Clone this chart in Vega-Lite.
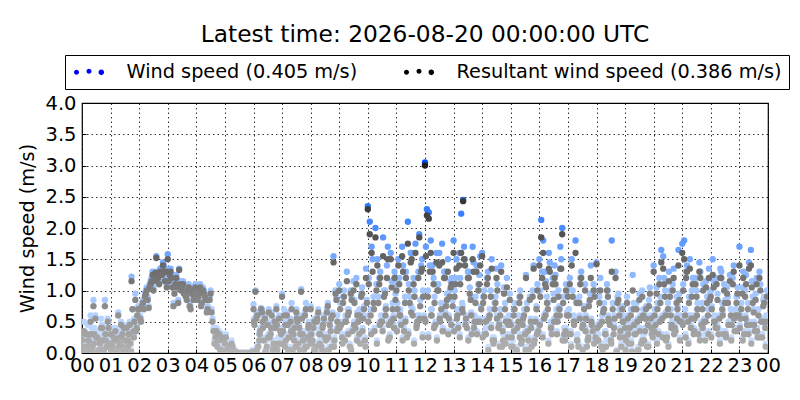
{
  "$schema": "https://vega.github.io/schema/vega-lite/v6.json",
  "width": 686,
  "height": 250,
  "autosize": {"type": "none"},
  "padding": {"left": 82, "top": 103, "right": 32, "bottom": 47},
  "background": "white",
  "title": {
    "text": "Latest time: 2026-08-20 00:00:00 UTC",
    "font": "DejaVu Sans",
    "fontSize": 23.3,
    "fontWeight": "normal",
    "color": "black",
    "anchor": "middle",
    "offset": 7
  },
  "config": {
    "view": {"stroke": "black", "strokeWidth": 1.2},
    "axis": {
      "labelFont": "DejaVu Sans",
      "labelFontSize": 19.5,
      "labelColor": "black",
      "labelOverlap": false,
      "labelFlush": false,
      "titleFont": "DejaVu Sans",
      "titleFontSize": 19.3,
      "titleFontWeight": "normal",
      "titleColor": "black",
      "domain": false,
      "ticks": true,
      "tickSize": -4,
      "tickColor": "black",
      "tickWidth": 1,
      "grid": true,
      "gridColor": "black",
      "gridDash": [1.5, 3],
      "gridWidth": 0.8,
      "gridOpacity": 1
    },
    "legend": {
      "orient": "none",
      "legendX": -17,
      "legendY": -48,
      "direction": "horizontal",
      "title": null,
      "symbolType": "M -0.75,0.05 a 0.25,0.25 0 1,0 0.5,0 a 0.25,0.25 0 1,0 -0.5,0 Z M 0.5,-0.05 a 0.25,0.25 0 1,0 0.5,0 a 0.25,0.25 0 1,0 -0.5,0 Z M 1.7,0.05 a 0.28,0.28 0 1,0 0.56,0 a 0.28,0.28 0 1,0 -0.56,0 Z",
      "symbolSize": 400,
      "symbolOpacity": 1,
      "symbolStrokeWidth": 0,
      "labelFont": "DejaVu Sans",
      "labelFontSize": 19.3,
      "labelColor": "black",
      "labelLimit": 0,
      "labelOffset": 35,
      "columnPadding": 44,
      "padding": 6.5,
      "strokeColor": "black",
      "fillColor": "white"
    }
  },
  "data": {
    "values": [
      {"m":0,"w":0.3,"r":0.2},{"m":4,"w":0.5,"r":0.35},{"m":8,"w":0.2,"r":0.1},{"m":12,"w":0.45,"r":0.3},{"m":16,"w":0.25,"r":0.1},{"m":20,"w":0.4,"r":0.3},{"m":24,"w":0.85,"r":0.75},{"m":28,"w":0.6,"r":0.55},{"m":32,"w":0.35,"r":0.25},{"m":36,"w":0.15,"r":0.05},{"m":40,"w":0.55,"r":0.4},{"m":44,"w":0.3,"r":0.2},{"m":48,"w":0.85,"r":0.75},{"m":52,"w":0.2,"r":0.1},{"m":56,"w":0.5,"r":0.4},
      {"m":2,"w":0.1,"r":0.05},{"m":6,"w":0.35,"r":0.3},{"m":10,"w":0.05,"r":0.02},{"m":14,"w":0.25,"r":0.2},{"m":18,"w":0.6,"r":0.5},{"m":22,"w":0.15,"r":0.1},{"m":26,"w":0.4,"r":0.3},{"m":30,"w":0.3,"r":0.25},{"m":34,"w":0.05,"r":0.02},{"m":38,"w":0.2,"r":0.15},{"m":42,"w":0.45,"r":0.4},{"m":46,"w":0.1,"r":0.05},{"m":50,"w":0.3,"r":0.2},{"m":54,"w":0.55,"r":0.5},{"m":58,"w":0.2,"r":0.15},
      {"m":1,"w":0.15,"r":0.1},{"m":7,"w":0.05,"r":0.02},{"m":13,"w":0.3,"r":0.2},{"m":19,"w":0.1,"r":0.05},{"m":25,"w":0.2,"r":0.15},{"m":31,"w":0.05,"r":0.02},{"m":37,"w":0.25,"r":0.2},{"m":43,"w":0.1,"r":0.05},{"m":49,"w":0.4,"r":0.3},{"m":55,"w":0.15,"r":0.1},
      {"m":60,"w":0.4,"r":0.3},{"m":64,"w":0.25,"r":0.1},{"m":68,"w":0.3,"r":0.2},{"m":72,"w":0.1,"r":0.05},{"m":76,"w":0.65,"r":0.6},{"m":80,"w":0.35,"r":0.25},{"m":84,"w":0.2,"r":0.1},{"m":88,"w":0.45,"r":0.4},{"m":92,"w":0.3,"r":0.2},{"m":96,"w":0.15,"r":0.1},{"m":100,"w":0.5,"r":0.45},{"m":104,"w":1.22,"r":1.15},{"m":108,"w":0.45,"r":0.35},{"m":112,"w":0.95,"r":0.85},{"m":116,"w":0.7,"r":0.6},
      {"m":62,"w":0.2,"r":0.15},{"m":66,"w":0.05,"r":0.02},{"m":70,"w":0.4,"r":0.35},{"m":74,"w":0.3,"r":0.2},{"m":78,"w":0.15,"r":0.1},{"m":82,"w":0.5,"r":0.45},{"m":86,"w":0.1,"r":0.05},{"m":90,"w":0.25,"r":0.2},{"m":94,"w":0.45,"r":0.4},{"m":98,"w":0.35,"r":0.3},{"m":102,"w":0.2,"r":0.15},{"m":106,"w":0.7,"r":0.7},{"m":110,"w":0.55,"r":0.5},{"m":114,"w":0.4,"r":0.35},{"m":118,"w":0.75,"r":0.7},
      {"m":61,"w":0.1,"r":0.05},{"m":67,"w":0.3,"r":0.25},{"m":73,"w":0.05,"r":0.02},{"m":79,"w":0.2,"r":0.15},{"m":85,"w":0.35,"r":0.3},{"m":91,"w":0.1,"r":0.05},{"m":97,"w":0.25,"r":0.2},{"m":103,"w":0.05,"r":0.02},{"m":109,"w":0.3,"r":0.25},{"m":115,"w":0.45,"r":0.4},
      {"m":120,"w":0.72,"r":0.7},{"m":124,"w":0.55,"r":0.5},{"m":128,"w":0.85,"r":0.8},{"m":132,"w":0.95,"r":0.9},{"m":136,"w":1.05,"r":1.0},{"m":140,"w":0.75,"r":0.72},{"m":144,"w":1.15,"r":1.1},{"m":148,"w":1.3,"r":1.25},{"m":152,"w":1.2,"r":1.15},{"m":156,"w":1.55,"r":1.52},{"m":160,"w":1.25,"r":1.2},{"m":164,"w":1.35,"r":1.3},{"m":168,"w":1.3,"r":1.25},{"m":172,"w":1.4,"r":1.3},{"m":176,"w":1.35,"r":1.3},
      {"m":122,"w":0.6,"r":0.55},{"m":126,"w":0.8,"r":0.75},{"m":130,"w":0.75,"r":0.7},{"m":134,"w":1.0,"r":0.95},{"m":138,"w":0.9,"r":0.85},{"m":142,"w":1.1,"r":1.05},{"m":146,"w":1.2,"r":1.15},{"m":150,"w":1.05,"r":1.0},{"m":154,"w":1.3,"r":1.28},{"m":158,"w":1.25,"r":1.2},{"m":162,"w":1.15,"r":1.1},{"m":166,"w":1.3,"r":1.25},{"m":170,"w":1.45,"r":1.4},{"m":174,"w":1.2,"r":1.15},{"m":178,"w":1.1,"r":1.05},
      {"m":180,"w":1.58,"r":1.5},{"m":184,"w":1.3,"r":1.25},{"m":188,"w":1.25,"r":1.2},{"m":192,"w":0.8,"r":0.75},{"m":196,"w":1.15,"r":1.1},{"m":200,"w":1.1,"r":1.05},{"m":204,"w":1.35,"r":1.33},{"m":208,"w":1.05,"r":1.0},{"m":212,"w":1.15,"r":1.1},{"m":216,"w":1.0,"r":0.95},{"m":220,"w":0.9,"r":0.85},{"m":224,"w":1.1,"r":1.05},{"m":228,"w":0.75,"r":0.7},{"m":232,"w":1.05,"r":1.0},{"m":236,"w":0.95,"r":0.9},
      {"m":182,"w":1.2,"r":1.15},{"m":186,"w":1.35,"r":1.3},{"m":190,"w":1.1,"r":1.05},{"m":194,"w":1.0,"r":0.95},{"m":198,"w":1.25,"r":1.2},{"m":202,"w":0.85,"r":0.8},{"m":206,"w":1.15,"r":1.1},{"m":210,"w":1.1,"r":1.05},{"m":214,"w":1.0,"r":0.95},{"m":218,"w":0.95,"r":0.9},{"m":222,"w":1.05,"r":1.0},{"m":226,"w":0.8,"r":0.75},{"m":230,"w":1.0,"r":0.95},{"m":234,"w":0.9,"r":0.85},{"m":238,"w":1.1,"r":1.05},
      {"m":240,"w":1.05,"r":1.0},{"m":244,"w":0.95,"r":0.9},{"m":248,"w":1.1,"r":1.05},{"m":252,"w":0.85,"r":0.8},{"m":256,"w":1.0,"r":0.95},{"m":260,"w":0.9,"r":0.85},{"m":264,"w":0.75,"r":0.7},{"m":268,"w":0.9,"r":0.85},{"m":272,"w":0.7,"r":0.65},{"m":276,"w":0.4,"r":0.35},{"m":280,"w":0.3,"r":0.25},{"m":284,"w":0.15,"r":0.1},{"m":288,"w":0.35,"r":0.3},{"m":292,"w":0.1,"r":0.05},{"m":296,"w":0.25,"r":0.2},
      {"m":242,"w":0.9,"r":0.85},{"m":246,"w":1.0,"r":0.95},{"m":250,"w":0.8,"r":0.75},{"m":254,"w":1.05,"r":1.0},{"m":258,"w":0.95,"r":0.9},{"m":262,"w":0.7,"r":0.65},{"m":266,"w":0.9,"r":0.85},{"m":270,"w":1.0,"r":0.95},{"m":274,"w":0.55,"r":0.5},{"m":278,"w":0.2,"r":0.15},{"m":282,"w":0.4,"r":0.35},{"m":286,"w":0.25,"r":0.2},{"m":290,"w":0.1,"r":0.05},{"m":294,"w":0.3,"r":0.25},{"m":298,"w":0.05,"r":0.02},
      {"m":300,"w":0.2,"r":0.15},{"m":304,"w":0.1,"r":0.05},{"m":308,"w":0.15,"r":0.1},{"m":312,"w":0.05,"r":0.02},{"m":316,"w":0.12,"r":0.1},{"m":320,"w":0.02,"r":0.01},{"m":324,"w":0.01,"r":0},{"m":328,"w":0,"r":0},{"m":332,"w":0,"r":0},{"m":336,"w":0,"r":0},{"m":340,"w":0,"r":0},{"m":344,"w":0,"r":0},{"m":348,"w":0,"r":0},{"m":352,"w":0,"r":0},{"m":356,"w":0.01,"r":0},
      {"m":302,"w":0.3,"r":0.25},{"m":306,"w":0.05,"r":0.02},{"m":310,"w":0.1,"r":0.05},{"m":314,"w":0.2,"r":0.15},{"m":318,"w":0.02,"r":0},{"m":322,"w":0.05,"r":0.02},{"m":326,"w":0,"r":0},{"m":330,"w":0,"r":0},{"m":334,"w":0,"r":0},{"m":338,"w":0,"r":0},{"m":342,"w":0,"r":0},{"m":346,"w":0,"r":0},{"m":350,"w":0,"r":0},{"m":354,"w":0,"r":0},{"m":358,"w":0.05,"r":0.02},
      {"m":360,"w":0.78,"r":0.7},{"m":364,"w":1.0,"r":0.98},{"m":368,"w":0.65,"r":0.6},{"m":372,"w":0.3,"r":0.2},{"m":376,"w":0.72,"r":0.7},{"m":380,"w":0.45,"r":0.4},{"m":384,"w":0.6,"r":0.55},{"m":388,"w":0.2,"r":0.1},{"m":392,"w":0.7,"r":0.65},{"m":396,"w":0.35,"r":0.3},{"m":400,"w":0.1,"r":0.05},{"m":404,"w":0.55,"r":0.5},{"m":408,"w":0.75,"r":0.7},{"m":412,"w":0.25,"r":0.15},{"m":416,"w":0.4,"r":0.35},
      {"m":362,"w":0.5,"r":0.45},{"m":366,"w":0.6,"r":0.55},{"m":370,"w":0.15,"r":0.1},{"m":374,"w":0.4,"r":0.35},{"m":378,"w":0.7,"r":0.65},{"m":382,"w":0.25,"r":0.2},{"m":386,"w":0.05,"r":0.02},{"m":390,"w":0.5,"r":0.45},{"m":394,"w":0.3,"r":0.25},{"m":398,"w":0.65,"r":0.6},{"m":402,"w":0.2,"r":0.15},{"m":406,"w":0.45,"r":0.4},{"m":410,"w":0.1,"r":0.05},{"m":414,"w":0.6,"r":0.55},{"m":418,"w":0.35,"r":0.3},
      {"m":361,"w":0.55,"r":0.5},{"m":367,"w":0.1,"r":0.05},{"m":373,"w":0.35,"r":0.3},{"m":379,"w":0.6,"r":0.5},{"m":385,"w":0.05,"r":0.02},{"m":391,"w":0.3,"r":0.25},{"m":397,"w":0.45,"r":0.4},{"m":403,"w":0.15,"r":0.1},{"m":409,"w":0.5,"r":0.45},{"m":415,"w":0.2,"r":0.15},
      {"m":420,"w":0.95,"r":0.9},{"m":424,"w":0.7,"r":0.6},{"m":428,"w":0.3,"r":0.2},{"m":432,"w":0.5,"r":0.45},{"m":436,"w":0.1,"r":0.05},{"m":440,"w":0.8,"r":0.7},{"m":444,"w":0.35,"r":0.3},{"m":448,"w":0.2,"r":0.1},{"m":452,"w":0.6,"r":0.5},{"m":456,"w":0.45,"r":0.4},{"m":460,"w":1.02,"r":0.98},{"m":464,"w":0.25,"r":0.2},{"m":468,"w":0.65,"r":0.6},{"m":472,"w":0.15,"r":0.1},{"m":476,"w":0.5,"r":0.45},
      {"m":422,"w":0.4,"r":0.35},{"m":426,"w":0.15,"r":0.1},{"m":430,"w":0.65,"r":0.6},{"m":434,"w":0.3,"r":0.25},{"m":438,"w":0.55,"r":0.5},{"m":442,"w":0.05,"r":0.02},{"m":446,"w":0.45,"r":0.4},{"m":450,"w":0.7,"r":0.65},{"m":454,"w":0.2,"r":0.15},{"m":458,"w":0.35,"r":0.3},{"m":462,"w":0.6,"r":0.55},{"m":466,"w":0.1,"r":0.05},{"m":470,"w":0.8,"r":0.7},{"m":474,"w":0.3,"r":0.25},{"m":478,"w":0.25,"r":0.2},
      {"m":421,"w":0.2,"r":0.15},{"m":427,"w":0.5,"r":0.45},{"m":433,"w":0.05,"r":0.02},{"m":439,"w":0.4,"r":0.35},{"m":445,"w":0.25,"r":0.2},{"m":451,"w":0.6,"r":0.55},{"m":457,"w":0.1,"r":0.05},{"m":463,"w":0.35,"r":0.3},{"m":469,"w":0.15,"r":0.1},{"m":475,"w":0.45,"r":0.4},
      {"m":480,"w":0.75,"r":0.7},{"m":484,"w":0.3,"r":0.2},{"m":488,"w":0.55,"r":0.5},{"m":492,"w":0.15,"r":0.1},{"m":496,"w":0.7,"r":0.65},{"m":500,"w":0.4,"r":0.3},{"m":504,"w":0.1,"r":0.05},{"m":508,"w":0.6,"r":0.55},{"m":512,"w":0.25,"r":0.2},{"m":516,"w":0.8,"r":0.75},{"m":520,"w":0.5,"r":0.45},{"m":524,"w":0.2,"r":0.1},{"m":528,"w":1.55,"r":1.45},{"m":532,"w":1.0,"r":0.95},{"m":536,"w":0.6,"r":0.5},
      {"m":482,"w":0.2,"r":0.15},{"m":486,"w":0.45,"r":0.4},{"m":490,"w":0.05,"r":0.02},{"m":494,"w":0.6,"r":0.55},{"m":498,"w":0.35,"r":0.3},{"m":502,"w":0.15,"r":0.1},{"m":506,"w":0.5,"r":0.45},{"m":510,"w":0.3,"r":0.25},{"m":514,"w":0.7,"r":0.65},{"m":518,"w":0.1,"r":0.05},{"m":522,"w":0.4,"r":0.35},{"m":526,"w":0.65,"r":0.6},{"m":530,"w":0.25,"r":0.2},{"m":534,"w":0.9,"r":0.85},{"m":538,"w":0.45,"r":0.4},
      {"m":481,"w":0.35,"r":0.3},{"m":487,"w":0.1,"r":0.05},{"m":493,"w":0.55,"r":0.5},{"m":499,"w":0.2,"r":0.15},{"m":505,"w":0.45,"r":0.4},{"m":511,"w":0.05,"r":0.02},{"m":517,"w":0.3,"r":0.25},{"m":523,"w":0.6,"r":0.55},{"m":529,"w":0.15,"r":0.1},{"m":535,"w":0.4,"r":0.35},
      {"m":540,"w":1.1,"r":1.0},{"m":544,"w":0.5,"r":0.45},{"m":548,"w":0.9,"r":0.8},{"m":552,"w":0.3,"r":0.2},{"m":556,"w":1.3,"r":1.15},{"m":560,"w":0.7,"r":0.65},{"m":564,"w":1.0,"r":0.95},{"m":568,"w":0.4,"r":0.35},{"m":572,"w":0.85,"r":0.8},{"m":576,"w":1.2,"r":1.1},{"m":580,"w":0.6,"r":0.5},{"m":584,"w":0.2,"r":0.15},{"m":588,"w":1.05,"r":0.95},{"m":592,"w":0.75,"r":0.7},{"m":596,"w":1.35,"r":1.2},
      {"m":542,"w":0.8,"r":0.7},{"m":546,"w":0.3,"r":0.25},{"m":550,"w":1.0,"r":0.9},{"m":554,"w":0.55,"r":0.5},{"m":558,"w":0.7,"r":0.6},{"m":562,"w":0.15,"r":0.1},{"m":566,"w":0.9,"r":0.85},{"m":570,"w":1.15,"r":1.0},{"m":574,"w":0.45,"r":0.4},{"m":578,"w":0.65,"r":0.6},{"m":582,"w":0.35,"r":0.3},{"m":586,"w":0.95,"r":0.9},{"m":590,"w":0.6,"r":0.55},{"m":594,"w":0.25,"r":0.2},{"m":598,"w":0.85,"r":0.8},
      {"m":541,"w":0.45,"r":0.4},{"m":547,"w":0.2,"r":0.15},{"m":553,"w":0.6,"r":0.5},{"m":559,"w":0.35,"r":0.3},{"m":565,"w":0.1,"r":0.05},{"m":571,"w":0.5,"r":0.45},{"m":577,"w":0.25,"r":0.2},{"m":583,"w":0.7,"r":0.6},{"m":589,"w":0.4,"r":0.35},{"m":595,"w":0.15,"r":0.1},
      {"m":600,"w":2.35,"r":2.3},{"m":604,"w":2.1,"r":1.9},{"m":608,"w":1.7,"r":1.6},{"m":612,"w":0.9,"r":0.8},{"m":616,"w":2.0,"r":1.85},{"m":620,"w":1.5,"r":1.4},{"m":624,"w":1.2,"r":1.1},{"m":628,"w":0.6,"r":0.5},{"m":632,"w":1.85,"r":1.55},{"m":636,"w":1.0,"r":0.95},{"m":640,"w":1.4,"r":1.2},{"m":644,"w":0.5,"r":0.45},{"m":648,"w":1.6,"r":1.5},{"m":652,"w":0.8,"r":0.7},{"m":656,"w":1.3,"r":1.2},
      {"m":602,"w":1.2,"r":1.1},{"m":606,"w":0.7,"r":0.6},{"m":610,"w":1.5,"r":1.3},{"m":614,"w":0.4,"r":0.35},{"m":618,"w":1.1,"r":1.0},{"m":622,"w":0.9,"r":0.8},{"m":626,"w":1.3,"r":1.2},{"m":630,"w":0.55,"r":0.5},{"m":634,"w":1.0,"r":0.9},{"m":638,"w":0.75,"r":0.7},{"m":642,"w":1.7,"r":1.5},{"m":646,"w":0.3,"r":0.25},{"m":650,"w":1.15,"r":1.05},{"m":654,"w":0.6,"r":0.55},{"m":658,"w":0.95,"r":0.85},
      {"m":601,"w":0.6,"r":0.5},{"m":607,"w":0.35,"r":0.3},{"m":613,"w":0.8,"r":0.7},{"m":619,"w":0.2,"r":0.15},{"m":625,"w":0.5,"r":0.45},{"m":631,"w":0.4,"r":0.35},{"m":637,"w":0.7,"r":0.6},{"m":643,"w":0.25,"r":0.2},{"m":649,"w":0.55,"r":0.5},{"m":655,"w":0.45,"r":0.4},
      {"m":660,"w":1.1,"r":1.0},{"m":664,"w":1.5,"r":1.4},{"m":668,"w":0.7,"r":0.6},{"m":672,"w":1.7,"r":1.55},{"m":676,"w":0.4,"r":0.35},{"m":680,"w":1.3,"r":1.2},{"m":684,"w":2.1,"r":1.75},{"m":688,"w":0.9,"r":0.8},{"m":692,"w":1.6,"r":1.5},{"m":696,"w":1.2,"r":1.1},{"m":700,"w":1.75,"r":1.6},{"m":704,"w":0.6,"r":0.5},{"m":708,"w":1.9,"r":1.85},{"m":712,"w":1.4,"r":1.3},{"m":716,"w":1.0,"r":0.9},
      {"m":662,"w":0.8,"r":0.7},{"m":666,"w":1.2,"r":1.1},{"m":670,"w":0.5,"r":0.45},{"m":674,"w":1.4,"r":1.3},{"m":678,"w":0.9,"r":0.8},{"m":682,"w":0.3,"r":0.25},{"m":686,"w":1.1,"r":1.0},{"m":690,"w":1.6,"r":1.45},{"m":694,"w":0.7,"r":0.6},{"m":698,"w":1.0,"r":0.9},{"m":702,"w":0.45,"r":0.4},{"m":706,"w":1.3,"r":1.2},{"m":710,"w":0.85,"r":0.75},{"m":714,"w":1.5,"r":1.35},{"m":718,"w":0.6,"r":0.55},
      {"m":661,"w":0.4,"r":0.35},{"m":667,"w":0.65,"r":0.6},{"m":673,"w":0.25,"r":0.2},{"m":679,"w":0.55,"r":0.5},{"m":685,"w":0.35,"r":0.3},{"m":691,"w":0.75,"r":0.65},{"m":697,"w":0.2,"r":0.15},{"m":703,"w":0.5,"r":0.45},{"m":709,"w":0.6,"r":0.55},{"m":715,"w":0.3,"r":0.25},
      {"m":720,"w":3.05,"r":3.0},{"m":724,"w":2.3,"r":2.2},{"m":728,"w":2.25,"r":2.15},{"m":732,"w":1.8,"r":1.6},{"m":736,"w":1.4,"r":1.3},{"m":740,"w":0.9,"r":0.8},{"m":744,"w":1.6,"r":1.45},{"m":748,"w":1.1,"r":1.0},{"m":752,"w":0.6,"r":0.5},{"m":756,"w":1.75,"r":1.45},{"m":760,"w":1.3,"r":1.2},{"m":764,"w":0.8,"r":0.75},{"m":768,"w":1.5,"r":1.3},{"m":772,"w":1.0,"r":0.9},{"m":776,"w":1.2,"r":1.1},
      {"m":722,"w":1.7,"r":1.55},{"m":726,"w":1.0,"r":0.9},{"m":730,"w":1.4,"r":1.3},{"m":734,"w":0.7,"r":0.6},{"m":738,"w":1.2,"r":1.1},{"m":742,"w":0.5,"r":0.45},{"m":746,"w":1.1,"r":1.0},{"m":750,"w":1.6,"r":1.4},{"m":754,"w":0.8,"r":0.7},{"m":758,"w":0.4,"r":0.35},{"m":762,"w":1.3,"r":1.2},{"m":766,"w":0.95,"r":0.85},{"m":770,"w":0.6,"r":0.55},{"m":774,"w":1.15,"r":1.05},{"m":778,"w":0.85,"r":0.75},
      {"m":721,"w":0.55,"r":0.5},{"m":727,"w":0.3,"r":0.25},{"m":733,"w":0.7,"r":0.6},{"m":739,"w":0.45,"r":0.4},{"m":745,"w":0.25,"r":0.2},{"m":751,"w":0.6,"r":0.55},{"m":757,"w":0.4,"r":0.35},{"m":763,"w":0.65,"r":0.6},{"m":769,"w":0.35,"r":0.3},{"m":775,"w":0.5,"r":0.45},
      {"m":780,"w":1.8,"r":1.6},{"m":784,"w":1.2,"r":1.1},{"m":788,"w":0.7,"r":0.6},{"m":792,"w":1.6,"r":1.4},{"m":796,"w":2.23,"r":1.6},{"m":800,"w":2.45,"r":2.43},{"m":804,"w":1.5,"r":1.4},{"m":808,"w":0.5,"r":0.4},{"m":812,"w":1.3,"r":1.2},{"m":816,"w":0.9,"r":0.85},{"m":820,"w":1.7,"r":1.5},{"m":824,"w":0.6,"r":0.5},{"m":828,"w":1.4,"r":1.3},{"m":832,"w":1.1,"r":1.0},{"m":836,"w":1.55,"r":1.4},
      {"m":782,"w":1.0,"r":0.9},{"m":786,"w":1.5,"r":1.35},{"m":790,"w":0.45,"r":0.4},{"m":794,"w":1.2,"r":1.1},{"m":798,"w":0.8,"r":0.7},{"m":802,"w":1.7,"r":1.5},{"m":806,"w":0.6,"r":0.55},{"m":810,"w":1.3,"r":1.2},{"m":814,"w":1.05,"r":0.95},{"m":818,"w":0.35,"r":0.3},{"m":822,"w":1.45,"r":1.3},{"m":826,"w":0.9,"r":0.8},{"m":830,"w":0.55,"r":0.5},{"m":834,"w":1.25,"r":1.1},{"m":838,"w":0.75,"r":0.7},
      {"m":781,"w":0.4,"r":0.35},{"m":787,"w":0.6,"r":0.55},{"m":793,"w":0.3,"r":0.25},{"m":799,"w":0.75,"r":0.65},{"m":805,"w":0.5,"r":0.45},{"m":811,"w":0.25,"r":0.2},{"m":817,"w":0.65,"r":0.6},{"m":823,"w":0.45,"r":0.4},{"m":829,"w":0.35,"r":0.3},{"m":835,"w":0.55,"r":0.5},
      {"m":840,"w":1.6,"r":1.55},{"m":844,"w":1.0,"r":0.9},{"m":848,"w":0.4,"r":0.3},{"m":852,"w":1.3,"r":1.2},{"m":856,"w":0.7,"r":0.6},{"m":860,"w":1.5,"r":1.35},{"m":864,"w":0.2,"r":0.15},{"m":868,"w":0.9,"r":0.8},{"m":872,"w":1.1,"r":1.0},{"m":876,"w":0.5,"r":0.45},{"m":880,"w":1.4,"r":1.3},{"m":884,"w":0.3,"r":0.2},{"m":888,"w":0.8,"r":0.7},{"m":892,"w":1.2,"r":1.05},{"m":896,"w":0.6,"r":0.5},
      {"m":842,"w":0.9,"r":0.8},{"m":846,"w":0.35,"r":0.3},{"m":850,"w":1.2,"r":1.1},{"m":854,"w":0.6,"r":0.55},{"m":858,"w":1.0,"r":0.9},{"m":862,"w":0.25,"r":0.2},{"m":866,"w":0.8,"r":0.7},{"m":870,"w":1.35,"r":1.2},{"m":874,"w":0.45,"r":0.4},{"m":878,"w":0.7,"r":0.6},{"m":882,"w":0.15,"r":0.1},{"m":886,"w":1.05,"r":0.95},{"m":890,"w":0.55,"r":0.5},{"m":894,"w":0.3,"r":0.25},{"m":898,"w":0.95,"r":0.85},
      {"m":841,"w":0.3,"r":0.25},{"m":847,"w":0.55,"r":0.5},{"m":853,"w":0.1,"r":0.05},{"m":859,"w":0.45,"r":0.4},{"m":865,"w":0.25,"r":0.2},{"m":871,"w":0.6,"r":0.55},{"m":877,"w":0.15,"r":0.1},{"m":883,"w":0.4,"r":0.35},{"m":889,"w":0.2,"r":0.15},{"m":895,"w":0.5,"r":0.45},
      {"m":900,"w":0.5,"r":0.45},{"m":904,"w":0.2,"r":0.1},{"m":908,"w":0.8,"r":0.7},{"m":912,"w":0.1,"r":0.05},{"m":916,"w":0.6,"r":0.5},{"m":920,"w":1.0,"r":0.9},{"m":924,"w":0.3,"r":0.2},{"m":928,"w":0.7,"r":0.6},{"m":932,"w":1.25,"r":1.2},{"m":936,"w":0.4,"r":0.35},{"m":940,"w":0.9,"r":0.85},{"m":944,"w":0.15,"r":0.1},{"m":948,"w":1.4,"r":1.35},{"m":952,"w":0.55,"r":0.5},{"m":956,"w":1.1,"r":1.0},
      {"m":902,"w":0.3,"r":0.25},{"m":906,"w":0.7,"r":0.6},{"m":910,"w":0.05,"r":0.02},{"m":914,"w":0.45,"r":0.4},{"m":918,"w":0.9,"r":0.8},{"m":922,"w":0.2,"r":0.15},{"m":926,"w":0.6,"r":0.55},{"m":930,"w":0.35,"r":0.3},{"m":934,"w":0.8,"r":0.7},{"m":938,"w":0.1,"r":0.05},{"m":942,"w":0.55,"r":0.5},{"m":946,"w":1.0,"r":0.9},{"m":950,"w":0.25,"r":0.2},{"m":954,"w":0.75,"r":0.7},{"m":958,"w":0.4,"r":0.35},
      {"m":901,"w":0.15,"r":0.1},{"m":907,"w":0.4,"r":0.35},{"m":913,"w":0.05,"r":0.02},{"m":919,"w":0.3,"r":0.25},{"m":925,"w":0.5,"r":0.45},{"m":931,"w":0.1,"r":0.05},{"m":937,"w":0.25,"r":0.2},{"m":943,"w":0.45,"r":0.4},{"m":949,"w":0.2,"r":0.15},{"m":955,"w":0.35,"r":0.3},
      {"m":960,"w":1.5,"r":1.4},{"m":964,"w":2.13,"r":1.85},{"m":968,"w":1.8,"r":1.6},{"m":972,"w":1.3,"r":1.1},{"m":976,"w":0.9,"r":0.8},{"m":980,"w":1.6,"r":1.35},{"m":984,"w":0.5,"r":0.4},{"m":988,"w":1.2,"r":1.1},{"m":992,"w":1.4,"r":1.2},{"m":996,"w":0.7,"r":0.6},{"m":1000,"w":1.0,"r":0.9},{"m":1004,"w":1.7,"r":1.35},{"m":1008,"w":2.0,"r":1.9},{"m":1012,"w":0.4,"r":0.3},{"m":1016,"w":1.1,"r":1.0},
      {"m":962,"w":1.0,"r":0.9},{"m":966,"w":1.3,"r":1.2},{"m":970,"w":0.6,"r":0.55},{"m":974,"w":1.15,"r":1.05},{"m":978,"w":0.8,"r":0.7},{"m":982,"w":1.45,"r":1.3},{"m":986,"w":0.35,"r":0.3},{"m":990,"w":0.95,"r":0.85},{"m":994,"w":1.25,"r":1.1},{"m":998,"w":0.55,"r":0.5},{"m":1002,"w":0.75,"r":0.7},{"m":1006,"w":1.5,"r":1.35},{"m":1010,"w":0.9,"r":0.8},{"m":1014,"w":0.25,"r":0.2},{"m":1018,"w":0.65,"r":0.6},
      {"m":961,"w":0.5,"r":0.45},{"m":967,"w":0.3,"r":0.25},{"m":973,"w":0.65,"r":0.6},{"m":979,"w":0.2,"r":0.15},{"m":985,"w":0.45,"r":0.4},{"m":991,"w":0.55,"r":0.5},{"m":997,"w":0.35,"r":0.3},{"m":1003,"w":0.7,"r":0.6},{"m":1009,"w":0.25,"r":0.2},{"m":1015,"w":0.4,"r":0.35},
      {"m":1020,"w":1.0,"r":0.9},{"m":1024,"w":1.2,"r":1.1},{"m":1028,"w":1.5,"r":1.4},{"m":1032,"w":0.6,"r":0.5},{"m":1036,"w":1.8,"r":1.6},{"m":1040,"w":0.3,"r":0.2},{"m":1044,"w":0.9,"r":0.8},{"m":1048,"w":1.3,"r":1.2},{"m":1052,"w":0.5,"r":0.45},{"m":1056,"w":1.1,"r":1.0},{"m":1060,"w":0.2,"r":0.1},{"m":1064,"w":0.8,"r":0.75},{"m":1068,"w":1.4,"r":1.2},{"m":1072,"w":0.4,"r":0.35},{"m":1076,"w":1.0,"r":0.9},
      {"m":1022,"w":0.7,"r":0.6},{"m":1026,"w":0.35,"r":0.3},{"m":1030,"w":1.0,"r":0.9},{"m":1034,"w":0.55,"r":0.5},{"m":1038,"w":0.85,"r":0.8},{"m":1042,"w":0.15,"r":0.1},{"m":1046,"w":1.2,"r":1.1},{"m":1050,"w":0.45,"r":0.4},{"m":1054,"w":0.75,"r":0.7},{"m":1058,"w":0.6,"r":0.55},{"m":1062,"w":0.25,"r":0.2},{"m":1066,"w":0.95,"r":0.85},{"m":1070,"w":0.5,"r":0.45},{"m":1074,"w":1.1,"r":1.0},{"m":1078,"w":0.3,"r":0.25},
      {"m":1021,"w":0.35,"r":0.3},{"m":1027,"w":0.15,"r":0.1},{"m":1033,"w":0.5,"r":0.45},{"m":1039,"w":0.25,"r":0.2},{"m":1045,"w":0.6,"r":0.55},{"m":1051,"w":0.1,"r":0.05},{"m":1057,"w":0.4,"r":0.35},{"m":1063,"w":0.3,"r":0.25},{"m":1069,"w":0.55,"r":0.5},{"m":1075,"w":0.2,"r":0.15},
      {"m":1080,"w":1.45,"r":1.42},{"m":1084,"w":0.3,"r":0.2},{"m":1088,"w":1.2,"r":1.0},{"m":1092,"w":0.6,"r":0.5},{"m":1096,"w":0.8,"r":0.7},{"m":1100,"w":0.2,"r":0.1},{"m":1104,"w":1.0,"r":0.9},{"m":1108,"w":0.5,"r":0.45},{"m":1112,"w":1.8,"r":1.3},{"m":1116,"w":0.4,"r":0.3},{"m":1120,"w":1.3,"r":1.2},{"m":1124,"w":0.9,"r":0.8},{"m":1128,"w":0.7,"r":0.6},{"m":1132,"w":0.15,"r":0.1},{"m":1136,"w":0.6,"r":0.5},
      {"m":1082,"w":0.45,"r":0.4},{"m":1086,"w":0.9,"r":0.8},{"m":1090,"w":0.15,"r":0.1},{"m":1094,"w":0.7,"r":0.65},{"m":1098,"w":0.35,"r":0.3},{"m":1102,"w":1.1,"r":1.0},{"m":1106,"w":0.55,"r":0.5},{"m":1110,"w":0.25,"r":0.2},{"m":1114,"w":0.8,"r":0.7},{"m":1118,"w":0.6,"r":0.55},{"m":1122,"w":0.05,"r":0.02},{"m":1126,"w":0.95,"r":0.85},{"m":1130,"w":0.4,"r":0.35},{"m":1134,"w":0.75,"r":0.7},{"m":1138,"w":0.3,"r":0.25},
      {"m":1081,"w":0.25,"r":0.2},{"m":1087,"w":0.5,"r":0.45},{"m":1093,"w":0.1,"r":0.05},{"m":1099,"w":0.35,"r":0.3},{"m":1105,"w":0.6,"r":0.55},{"m":1111,"w":0.2,"r":0.15},{"m":1117,"w":0.45,"r":0.4},{"m":1123,"w":0.05,"r":0.02},{"m":1129,"w":0.3,"r":0.25},{"m":1135,"w":0.55,"r":0.5},
      {"m":1140,"w":0.5,"r":0.4},{"m":1144,"w":0.9,"r":0.8},{"m":1148,"w":0.2,"r":0.15},{"m":1152,"w":0.7,"r":0.6},{"m":1156,"w":1.25,"r":1.0},{"m":1160,"w":0.4,"r":0.3},{"m":1164,"w":0.8,"r":0.7},{"m":1168,"w":0.1,"r":0.05},{"m":1172,"w":0.6,"r":0.55},{"m":1176,"w":1.0,"r":0.9},{"m":1180,"w":0.3,"r":0.2},{"m":1184,"w":0.75,"r":0.7},{"m":1188,"w":0.5,"r":0.45},{"m":1192,"w":1.05,"r":0.95},{"m":1196,"w":0.35,"r":0.3},
      {"m":1142,"w":0.25,"r":0.2},{"m":1146,"w":0.6,"r":0.55},{"m":1150,"w":0.45,"r":0.4},{"m":1154,"w":0.05,"r":0.02},{"m":1158,"w":0.8,"r":0.7},{"m":1162,"w":0.35,"r":0.3},{"m":1166,"w":0.55,"r":0.5},{"m":1170,"w":0.95,"r":0.85},{"m":1174,"w":0.2,"r":0.15},{"m":1178,"w":0.7,"r":0.6},{"m":1182,"w":0.4,"r":0.35},{"m":1186,"w":0.15,"r":0.1},{"m":1190,"w":0.85,"r":0.75},{"m":1194,"w":0.6,"r":0.55},{"m":1198,"w":0.3,"r":0.25},
      {"m":1141,"w":0.1,"r":0.05},{"m":1147,"w":0.35,"r":0.3},{"m":1153,"w":0.2,"r":0.15},{"m":1159,"w":0.5,"r":0.45},{"m":1165,"w":0.05,"r":0.02},{"m":1171,"w":0.4,"r":0.35},{"m":1177,"w":0.25,"r":0.2},{"m":1183,"w":0.6,"r":0.55},{"m":1189,"w":0.15,"r":0.1},{"m":1195,"w":0.45,"r":0.4},
      {"m":1200,"w":1.4,"r":1.3},{"m":1204,"w":0.5,"r":0.45},{"m":1208,"w":0.8,"r":0.7},{"m":1212,"w":1.2,"r":1.1},{"m":1216,"w":1.65,"r":1.45},{"m":1220,"w":1.55,"r":1.35},{"m":1224,"w":1.0,"r":0.9},{"m":1228,"w":0.3,"r":0.25},{"m":1232,"w":1.3,"r":1.15},{"m":1236,"w":0.7,"r":0.6},{"m":1240,"w":1.1,"r":1.0},{"m":1244,"w":0.45,"r":0.4},{"m":1248,"w":0.9,"r":0.8},{"m":1252,"w":1.65,"r":1.4},{"m":1256,"w":0.6,"r":0.5},
      {"m":1202,"w":0.7,"r":0.6},{"m":1206,"w":1.05,"r":0.95},{"m":1210,"w":0.35,"r":0.3},{"m":1214,"w":0.9,"r":0.8},{"m":1218,"w":0.6,"r":0.55},{"m":1222,"w":1.2,"r":1.1},{"m":1226,"w":0.25,"r":0.2},{"m":1230,"w":0.8,"r":0.7},{"m":1234,"w":1.0,"r":0.9},{"m":1238,"w":0.5,"r":0.45},{"m":1242,"w":1.35,"r":1.2},{"m":1246,"w":0.4,"r":0.35},{"m":1250,"w":0.75,"r":0.7},{"m":1254,"w":0.95,"r":0.85},{"m":1258,"w":0.55,"r":0.5},
      {"m":1201,"w":0.4,"r":0.35},{"m":1207,"w":0.2,"r":0.15},{"m":1213,"w":0.55,"r":0.5},{"m":1219,"w":0.3,"r":0.25},{"m":1225,"w":0.65,"r":0.6},{"m":1231,"w":0.15,"r":0.1},{"m":1237,"w":0.45,"r":0.4},{"m":1243,"w":0.35,"r":0.3},{"m":1249,"w":0.6,"r":0.55},{"m":1255,"w":0.25,"r":0.2},
      {"m":1260,"w":1.75,"r":1.6},{"m":1264,"w":1.8,"r":1.5},{"m":1268,"w":1.3,"r":1.2},{"m":1272,"w":0.6,"r":0.5},{"m":1276,"w":1.5,"r":1.35},{"m":1280,"w":1.0,"r":0.9},{"m":1284,"w":0.4,"r":0.3},{"m":1288,"w":1.2,"r":1.1},{"m":1292,"w":0.8,"r":0.7},{"m":1296,"w":1.45,"r":1.3},{"m":1300,"w":0.5,"r":0.45},{"m":1304,"w":1.1,"r":1.0},{"m":1308,"w":0.3,"r":0.2},{"m":1312,"w":0.9,"r":0.8},{"m":1316,"w":1.35,"r":1.2},
      {"m":1262,"w":1.1,"r":1.0},{"m":1266,"w":0.7,"r":0.6},{"m":1270,"w":1.4,"r":1.3},{"m":1274,"w":0.9,"r":0.8},{"m":1278,"w":0.45,"r":0.4},{"m":1282,"w":1.2,"r":1.1},{"m":1286,"w":0.6,"r":0.55},{"m":1290,"w":1.0,"r":0.9},{"m":1294,"w":0.35,"r":0.3},{"m":1298,"w":1.3,"r":1.2},{"m":1302,"w":0.8,"r":0.7},{"m":1306,"w":0.55,"r":0.5},{"m":1310,"w":1.15,"r":1.05},{"m":1314,"w":0.7,"r":0.6},{"m":1318,"w":0.95,"r":0.85},
      {"m":1261,"w":0.5,"r":0.45},{"m":1267,"w":0.3,"r":0.25},{"m":1273,"w":0.2,"r":0.15},{"m":1279,"w":0.6,"r":0.55},{"m":1285,"w":0.4,"r":0.35},{"m":1291,"w":0.7,"r":0.6},{"m":1297,"w":0.25,"r":0.2},{"m":1303,"w":0.45,"r":0.4},{"m":1309,"w":0.55,"r":0.5},{"m":1315,"w":0.35,"r":0.3},
      {"m":1320,"w":1.0,"r":0.9},{"m":1324,"w":1.5,"r":1.25},{"m":1328,"w":0.6,"r":0.5},{"m":1332,"w":1.2,"r":1.1},{"m":1336,"w":0.4,"r":0.3},{"m":1340,"w":1.35,"r":1.2},{"m":1344,"w":0.8,"r":0.7},{"m":1348,"w":1.1,"r":1.0},{"m":1352,"w":0.3,"r":0.25},{"m":1356,"w":0.9,"r":0.8},{"m":1360,"w":1.25,"r":1.15},{"m":1364,"w":0.5,"r":0.45},{"m":1368,"w":1.4,"r":1.3},{"m":1372,"w":0.7,"r":0.6},{"m":1376,"w":1.05,"r":0.95},
      {"m":1322,"w":0.75,"r":0.7},{"m":1326,"w":1.15,"r":1.05},{"m":1330,"w":0.45,"r":0.4},{"m":1334,"w":0.95,"r":0.85},{"m":1338,"w":0.6,"r":0.55},{"m":1342,"w":1.3,"r":1.2},{"m":1346,"w":0.35,"r":0.3},{"m":1350,"w":0.85,"r":0.8},{"m":1354,"w":1.05,"r":0.95},{"m":1358,"w":0.5,"r":0.45},{"m":1362,"w":0.7,"r":0.6},{"m":1366,"w":1.2,"r":1.1},{"m":1370,"w":0.4,"r":0.35},{"m":1374,"w":0.9,"r":0.8},{"m":1378,"w":0.65,"r":0.6},
      {"m":1321,"w":0.3,"r":0.25},{"m":1327,"w":0.55,"r":0.5},{"m":1333,"w":0.45,"r":0.4},{"m":1339,"w":0.2,"r":0.15},{"m":1345,"w":0.65,"r":0.6},{"m":1351,"w":0.35,"r":0.3},{"m":1357,"w":0.5,"r":0.45},{"m":1363,"w":0.25,"r":0.2},{"m":1369,"w":0.6,"r":0.55},{"m":1375,"w":0.4,"r":0.35},
      {"m":1380,"w":1.7,"r":1.4},{"m":1384,"w":0.8,"r":0.7},{"m":1388,"w":1.3,"r":1.2},{"m":1392,"w":1.0,"r":0.9},{"m":1396,"w":0.5,"r":0.45},{"m":1400,"w":1.45,"r":1.35},{"m":1404,"w":1.65,"r":1.4},{"m":1408,"w":0.9,"r":0.8},{"m":1412,"w":0.4,"r":0.35},{"m":1416,"w":1.2,"r":1.1},{"m":1420,"w":0.7,"r":0.6},{"m":1424,"w":1.1,"r":1.0},{"m":1428,"w":0.3,"r":0.25},{"m":1432,"w":0.9,"r":0.8},{"m":1436,"w":0.6,"r":0.5},
      {"m":1382,"w":0.6,"r":0.55},{"m":1386,"w":1.05,"r":0.95},{"m":1390,"w":0.35,"r":0.3},{"m":1394,"w":1.25,"r":1.1},{"m":1398,"w":0.8,"r":0.7},{"m":1402,"w":0.5,"r":0.45},{"m":1406,"w":1.15,"r":1.05},{"m":1410,"w":0.7,"r":0.65},{"m":1414,"w":0.95,"r":0.85},{"m":1418,"w":0.3,"r":0.25},{"m":1422,"w":1.3,"r":1.2},{"m":1426,"w":0.55,"r":0.5},{"m":1430,"w":0.85,"r":0.75},{"m":1434,"w":0.45,"r":0.4},{"m":1438,"w":1.0,"r":0.9},
      {"m":1381,"w":0.45,"r":0.4},{"m":1387,"w":0.25,"r":0.2},{"m":1393,"w":0.6,"r":0.55},{"m":1399,"w":0.35,"r":0.3},{"m":1405,"w":0.2,"r":0.15},{"m":1411,"w":0.5,"r":0.45},{"m":1417,"w":0.4,"r":0.35},{"m":1423,"w":0.3,"r":0.25},{"m":1429,"w":0.55,"r":0.5},{"m":1435,"w":0.15,"r":0.1}
    ]
  },
  "encoding": {
    "x": {
      "field": "m",
      "type": "quantitative",
      "scale": {"domain": [0, 1440], "nice": false, "zero": false},
      "axis": {
        "title": null,
        "values": [0, 60, 120, 180, 240, 300, 360, 420, 480, 540, 600, 660, 720, 780, 840, 900, 960, 1020, 1080, 1140, 1200, 1260, 1320, 1380, 1440],
        "labelExpr": "datum.value == 1440 ? '00' : (datum.value < 600 ? '0' + (datum.value / 60) : '' + (datum.value / 60))",
        "labelPadding": 7,
        "labelOverlap": false,
        "labelSeparation": 0,
        "labelBound": false
      }
    }
  },
  "layer": [
    {
      "mark": {"type": "point", "filled": true, "size": 40, "opacity": 1, "clip": true},
      "encoding": {
        "y": {
          "field": "w",
          "type": "quantitative",
          "scale": {"domain": [0, 4], "nice": false},
          "axis": {
            "title": "Wind speed (m/s)",
            "values": [0, 0.5, 1, 1.5, 2, 2.5, 3, 3.5, 4],
            "format": ".1f",
            "labelPadding": 10,
            "titlePadding": 7,
            "labelOverlap": false,
            "labelSeparation": 0
          }
        },
        "color": {
          "field": "w",
          "type": "quantitative",
          "scale": {"domain": [0, 1, 2, 3], "range": ["#d0e2ff", "#a2c6ff", "#4a8cff", "#0050ff"], "clamp": true},
          "legend": null
        }
      }
    },
    {
      "mark": {"type": "point", "filled": true, "size": 40, "opacity": 1, "clip": true},
      "encoding": {
        "y": {
          "field": "r",
          "type": "quantitative",
          "scale": {"domain": [0, 4], "nice": false},
          "axis": {
            "title": "Wind speed (m/s)",
            "values": [0, 0.5, 1, 1.5, 2, 2.5, 3, 3.5, 4],
            "format": ".1f",
            "labelPadding": 10,
            "titlePadding": 7,
            "labelOverlap": false,
            "labelSeparation": 0
          }
        },
        "color": {
          "field": "r",
          "type": "quantitative",
          "scale": {"domain": [0, 3], "range": ["#b4b4b4", "#1e1e1e"], "clamp": true},
          "legend": null
        }
      }
    },
    {
      "data": {"values": [{"s": "Wind speed (0.405 m/s)"}, {"s": "Resultant wind speed (0.386 m/s)"}]},
      "mark": {"type": "point", "filled": true, "size": 0, "opacity": 0},
      "encoding": {
        "x": {"value": 0},
        "color": {
          "field": "s",
          "type": "nominal",
          "scale": {"domain": ["Wind speed (0.405 m/s)", "Resultant wind speed (0.386 m/s)"], "range": ["#0000ff", "#000000"]},
          "legend": {"symbolOpacity": 1}
        }
      }
    }
  ],
  "resolve": {"scale": {"color": "independent"}, "legend": {"color": "independent"}}
}
